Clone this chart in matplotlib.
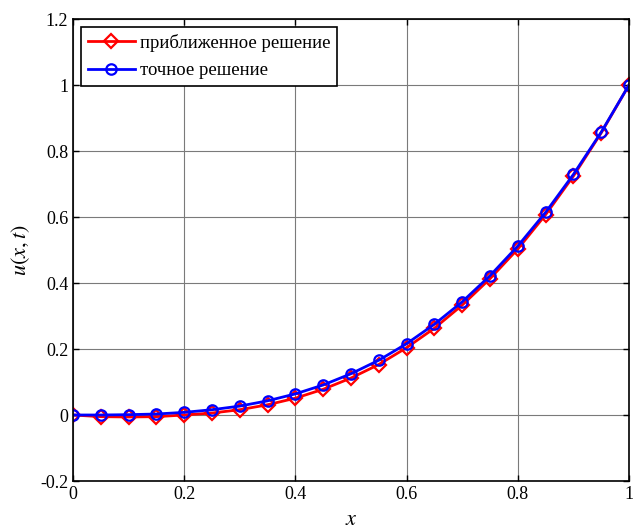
import matplotlib
matplotlib.use("Agg")
import matplotlib.pyplot as plt

x = [0.0, 0.05, 0.1, 0.15, 0.2, 0.25, 0.3, 0.35, 0.4, 0.45, 0.5,
     0.55, 0.6, 0.65, 0.7, 0.75, 0.8, 0.85, 0.9, 0.95, 1.0]
u_approx = [0.0, -0.005, -0.006, -0.005, 0.0, 0.006, 0.016, 0.031, 0.051, 0.078, 0.112,
            0.153, 0.204, 0.263, 0.333, 0.413, 0.503, 0.607, 0.724, 0.855, 1.0]
u_exact = [0.0, 0.0, 0.001, 0.003, 0.008, 0.016, 0.027, 0.043, 0.064, 0.091, 0.125,
           0.166, 0.216, 0.275, 0.343, 0.422, 0.512, 0.614, 0.729, 0.857, 1.0]
labels = ["приближенное решение", "точное решение"]
xticks = [0, 0.2, 0.4, 0.6, 0.8, 1]
yticks = [-0.2, 0, 0.2, 0.4, 0.6, 0.8, 1, 1.2]
xticklabels = ["0", "0.2", "0.4", "0.6", "0.8", "1"]
yticklabels = ["-0.2", "0", "0.2", "0.4", "0.6", "0.8", "1", "1.2"]

plt.rcParams['font.family'] = ['Liberation Serif', 'DejaVu Serif']
plt.rcParams['mathtext.fontset'] = 'stix'

fig = plt.figure(figsize=(6.33, 5.29), dpi=100)
ax = fig.add_axes([73/633, 1 - 481/529, (629-73)/633, (481-19)/529])

ax.plot(x, u_approx, color='red', lw=2, marker='D', markersize=7.5,
        markerfacecolor='none', markeredgecolor='red', markeredgewidth=1.6, label=labels[0])
ax.plot(x, u_exact, color='blue', lw=2, marker='o', markersize=7.5,
        markerfacecolor='none', markeredgecolor='blue', markeredgewidth=1.6, label=labels[1])

ax.set_xlim(0, 1)
ax.set_ylim(-0.2, 1.2)
ax.set_xticks(xticks)
ax.set_xticklabels(xticklabels)
ax.set_yticks(yticks)
ax.set_yticklabels(yticklabels)
ax.tick_params(direction='in', top=True, right=True, labelsize=13, length=4, width=1)
ax.grid(True, color='#7a7a7a', lw=0.8, linestyle='-')
ax.set_axisbelow(True)
for s in ax.spines.values():
    s.set_linewidth(1.2)

ax.set_xlabel(r'$x$', fontsize=16, labelpad=6)
ax.set_ylabel(r'$u(x,t)$', fontsize=16, labelpad=6)

leg = ax.legend(loc='upper left', fontsize=13.5, frameon=True, fancybox=False,
                edgecolor='black', framealpha=1, borderpad=0.35, handlelength=2.5,
                handletextpad=0.25, labelspacing=0.55, borderaxespad=0.45)
leg.get_frame().set_linewidth(1.2)

fig.savefig('out.png', dpi=100)
